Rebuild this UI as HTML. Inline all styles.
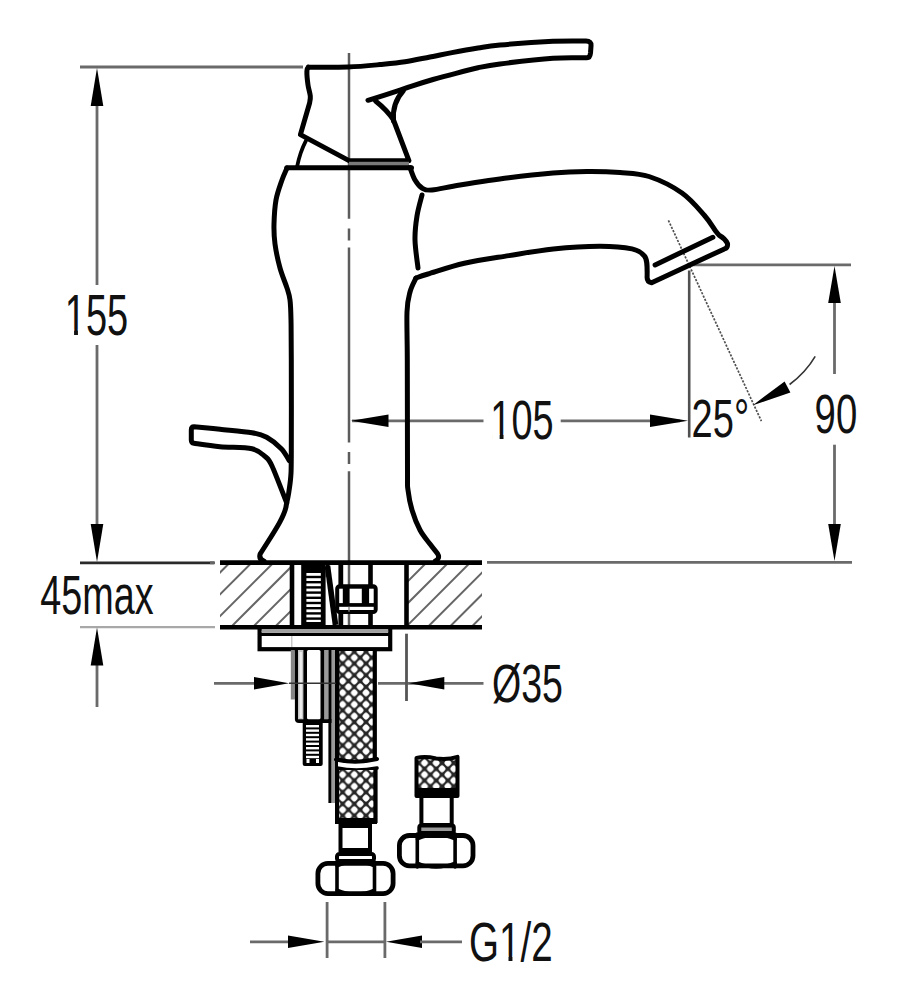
<!DOCTYPE html>
<html><head><meta charset="utf-8"><style>html,body{margin:0;padding:0;background:#fff;width:900px;height:1000px;overflow:hidden}svg{display:block}</style></head>
<body><svg width="900" height="1000" viewBox="0 0 900 1000">
<rect width="900" height="1000" fill="#fff"/>
<path d="M80,67 L303,67" fill="none" stroke="#6a6a6a" stroke-width="2.8" />
<path d="M97,100 L97,285" fill="none" stroke="#6a6a6a" stroke-width="2.8" />
<path d="M97,345 L97,530" fill="none" stroke="#6a6a6a" stroke-width="2.8" />
<path d="M97,68 L90.7,106 L103.3,106 Z" fill="#000"/>
<path d="M97,562 L103.3,524 L90.7,524 Z" fill="#000"/>
<path d="M80,562.8 L214,562.8" fill="none" stroke="#2a2a2a" stroke-width="2.8" />
<path d="M80,627.2 L215,627.2" fill="none" stroke="#a8a8a8" stroke-width="2.2" />
<path d="M210,562.8 L215,562.8" fill="none" stroke="#666" stroke-width="2.8" />
<path d="M97,660 L97,707" fill="none" stroke="#6a6a6a" stroke-width="2.8" />
<path d="M97,627.5 L90.7,665.5 L103.3,665.5 Z" fill="#000"/>
<path d="M487,562.4 L852,562.4" fill="none" stroke="#6a6a6a" stroke-width="2.8" />
<path d="M692,264.8 L851,264.8" fill="none" stroke="#6a6a6a" stroke-width="2.8" />
<path d="M834.5,290 L834.5,374" fill="none" stroke="#6a6a6a" stroke-width="2.8" />
<path d="M834.5,444.7 L834.5,530" fill="none" stroke="#6a6a6a" stroke-width="2.8" />
<path d="M834.5,266 L828.2,303 L840.8,303 Z" fill="#000"/>
<path d="M834.5,561 L840.8,524 L828.2,524 Z" fill="#000"/>
<path d="M689.2,270.5 L689.2,437.5" fill="none" stroke="#505050" stroke-width="2.6" />
<path d="M352,420.8 L483.5,420.8" fill="none" stroke="#6a6a6a" stroke-width="2.8" />
<path d="M560.7,420.8 L680,420.8" fill="none" stroke="#6a6a6a" stroke-width="2.8" />
<path d="M351,420.8 L388.5,427.1 L388.5,414.5 Z" fill="#000"/>
<path d="M688,420.8 L650,414.5 L650,427.1 Z" fill="#000"/>
<path d="M668.4,220.4 L761.4,421.1" fill="none" stroke="#505050" stroke-width="1.7" stroke-dasharray="2.2,1.4"/>
<path d="M815.2,356.3 Q806,372 789.6,384.5" fill="none" stroke="#333" stroke-width="1.6" />
<path d="M752.9,405.2 L790.4,392.6 L784.6,381.4 Z" fill="#000"/>
<path d="M214,683.3 L260,683.3" fill="none" stroke="#6a6a6a" stroke-width="2.8" />
<path d="M289,683.3 L254,677 L254,689.6 Z" fill="#000"/>
<path d="M378,683.3 L483.5,683.3" fill="none" stroke="#6a6a6a" stroke-width="2.8" />
<path d="M409,683.3 L444.3,689.6 L444.3,677 Z" fill="#000"/>
<path d="M406.5,633.7 L406.5,701" fill="none" stroke="#555" stroke-width="2.8" />
<path d="M250,941.8 L290,941.8" fill="none" stroke="#6a6a6a" stroke-width="2.8" />
<path d="M324.4,941.8 L288,935.5 L288,948.1 Z" fill="#000"/>
<path d="M327,941.8 L385,941.8" fill="none" stroke="#6a6a6a" stroke-width="2.8" />
<path d="M327.1,902 L327.1,958" fill="none" stroke="#6a6a6a" stroke-width="2.8" />
<path d="M384.9,902 L384.9,958" fill="none" stroke="#6a6a6a" stroke-width="2.8" />
<path d="M386,941.8 L422,948.1 L422,935.5 Z" fill="#000"/>
<path d="M420,941.8 L462,941.8" fill="none" stroke="#6a6a6a" stroke-width="2.8" />
<path d="M349,53 L349,625" fill="none" stroke="#5c5c5c" stroke-width="2.5" stroke-dasharray="165.8,9.6,12,7.2,194.8,9.6,12,7.2,400"/>
<g transform="matrix(0.3800,0,0,0.5814,64.76,334.52)"><text x="0" y="0" font-family="Liberation Sans" font-size="100" fill="#111" >155</text><rect x="5.0" y="-9.5" width="19.5" height="12" fill="#fff"/><rect x="34.7" y="-9.5" width="20" height="12" fill="#fff"/></g>
<g transform="matrix(0.3778,0,0,0.5465,40.34,613.85)"><text x="0" y="0" font-family="Liberation Sans" font-size="100" fill="#111" >45max</text></g>
<g transform="matrix(0.3787,0,0,0.5507,490.37,439.15)"><text x="0" y="0" font-family="Liberation Sans" font-size="100" fill="#111" >105</text><rect x="5.0" y="-9.5" width="19.5" height="12" fill="#fff"/><rect x="34.7" y="-9.5" width="20" height="12" fill="#fff"/></g>
<g transform="matrix(0.3807,0,0,0.5437,691.60,436.66)"><text x="0" y="0" font-family="Liberation Sans" font-size="100" fill="#111" >25°</text></g>
<g transform="matrix(0.3833,0,0,0.5592,814.58,432.74)"><text x="0" y="0" font-family="Liberation Sans" font-size="100" fill="#111" >90</text></g>
<g transform="matrix(0.3757,0,0,0.5293,492.00,701.51)"><text x="0" y="0" font-family="Liberation Sans" font-size="100" fill="#111" >Ø35</text></g>
<g transform="matrix(0.3855,0,0,0.5554,469.07,961.14)"><text x="0" y="0" font-family="Liberation Sans" font-size="100" fill="#111" >G1/2</text><rect x="82.8" y="-9.5" width="19.5" height="12" fill="#fff"/><rect x="112.5" y="-9.5" width="20" height="12" fill="#fff"/></g>
<path d="M308.4,67.2C315,67.2 336.1,67.4 348,67C359.9,66.6 370.5,65.5 380,64.6C389.5,63.7 396.7,63.1 405,61.8C413.3,60.5 422.2,58.5 430,57C437.8,55.5 444,54.1 452,52.6C460,51.1 470,49.3 478,48C486,46.7 487.5,46.1 500,45C512.5,43.9 538.7,42 553,41.3C567.3,40.6 580.5,41 586,41 Q591.5,41 591,46 L590.5,53 Q590,57.8 587,57.8C581.3,57.9 567.5,57.2 553,58.2C538.5,59.2 512.5,62.3 500,63.9C487.5,65.5 485.3,66.2 478,67.8C470.7,69.4 463.5,71.3 456,73.3C448.5,75.2 440.5,77.3 433,79.5C425.5,81.7 416.5,84.5 411,86.3C405.5,88.1 407.2,87.9 400,90.2C392.8,92.5 373.3,98.6 368,100.3" fill="none" stroke="#000" stroke-width="5.0" stroke-linejoin="round" stroke-linecap="round" />
<path d="M308.4,67.2C308.1,67.8 307,68 306.9,71C306.8,74 307.4,80.8 308,85C308.6,89.2 310,93 310.3,96C310.6,99 309.7,101.8 309.6,103 L300.4,134.6 L349,160.6 L409,160.8 L393.5,120 Q387,110 375.5,101" fill="none" stroke="#000" stroke-width="5.0" stroke-linejoin="round" stroke-linecap="round" />
<path d="M403.5,90.5 Q392,103 393.5,121" fill="none" stroke="#000" stroke-width="5.0" stroke-linejoin="round" stroke-linecap="round" />
<rect x="349" y="161.8" width="60" height="4.6" fill="#7a7a7a"/>
<path d="M286.8,167.8 L411.5,167.8" fill="none" stroke="#000" stroke-width="5.0" stroke-linejoin="round" stroke-linecap="round" />
<path d="M297,167 Q300,152 306,140.6" fill="none" stroke="#000" stroke-width="3.8" stroke-linejoin="round" stroke-linecap="round" />
<path d="M287,168C286.2,170 283.8,174.7 282,180C280.2,185.3 277.3,192.7 276,200C274.7,207.3 274.2,216.7 274,224C273.8,231.3 274,236.7 275,244C276,251.3 278,260.7 280,268C282,275.3 285.3,282.7 287,288C288.7,293.3 289.3,294.7 290,300C290.7,305.3 290.8,310 291,320C291.2,330 291.2,337.5 291.3,360C291.4,382.5 291.4,435.7 291.3,455C291.2,474.3 291.2,469.7 290.8,476C290.4,482.3 289.4,488.3 288.7,493C288,497.7 286.8,502.4 286.4,504.3 C285.5,516 272,535 260.2,553.9 Q258.5,559 264,561" fill="none" stroke="#000" stroke-width="5.0" stroke-linejoin="round" stroke-linecap="round" />
<path d="M410,167.5C410.8,169.6 413,176.6 415,180C417,183.4 419.2,186.3 422,188C424.8,189.7 425.7,190.5 432,190C438.3,189.5 447.2,187 460,185C472.8,183 493.4,179.8 508.9,177.8C524.4,175.8 540,174.1 553,173C566,171.9 575.8,171.6 587,171.5C598.2,171.4 609.7,171.7 620,172.5C630.3,173.3 638.7,173.1 649,176.5C659.3,179.9 672.8,186.5 682,193C691.2,199.5 698.9,209.2 704.5,215.5C710.1,221.8 713.1,227.7 715.6,231C718.1,234.3 718.9,234.8 719.5,235.5 Q725,238.5 727.5,243.5 Q728,248 724.4,248.9 L651.6,282.7 Q647,282 647.1,277.3 C647.4,264.9 647.1,259 644.4,256C641.7,253 639.4,250.5 632,248.9C624.6,247.3 613.1,246.2 600,246.2C586.9,246.2 568.5,247.3 553.3,248.9C538.1,250.5 523.7,253.2 508.9,255.6C494.1,258 477.9,260.2 464.4,263.3C450.9,266.4 436.1,271.6 428,274C419.9,276.4 418,277.3 416,278" fill="none" stroke="#000" stroke-width="5.0" stroke-linejoin="round" stroke-linecap="round" />
<path d="M416,278C415,280.3 411.5,286.3 410,292C408.5,297.7 407.4,300.7 407,312C406.6,323.3 407.2,333.7 407.3,360C407.4,386.3 407.4,448.3 407.5,470C407.6,491.7 407.2,483.3 408,490C408.8,496.7 410,503.3 412,510C414,516.7 417,524.3 420,530C423,535.7 427.1,540.1 430,544C432.9,547.9 436.2,551.9 437.5,553.5 Q440.5,558.5 435.4,561" fill="none" stroke="#000" stroke-width="5.0" stroke-linejoin="round" stroke-linecap="round" />
<path d="M655.1,264.9 L712.9,237.3" fill="none" stroke="#000" stroke-width="5.0" stroke-linejoin="round" stroke-linecap="round" />
<path d="M422,195C421.2,198.5 418.2,208.5 417,216C415.8,223.5 414.8,231.3 415,240C415.2,248.7 417.5,263.3 418,268" fill="none" stroke="#000" stroke-width="5.0" stroke-linejoin="round" stroke-linecap="round" />
<path d="M289.3,460.7C288,458.7 285.1,452.6 281.3,448.7C277.5,444.8 271.6,440 266.7,437.3C261.8,434.6 259.8,434 252,432.7C244.2,431.4 229.7,430.3 220,429.3C210.3,428.3 198.3,427.1 194,426.7 Q191.3,426.7 191.3,430 L191.3,440 Q191.3,443 194,443.3C198.3,443.9 210.3,445.8 220,446.7C229.7,447.6 244.4,447 252,448.7C259.6,450.4 262,453.8 265.3,456.7C268.6,459.6 268.4,458.3 272,466C275.6,473.7 284.2,496.8 286.7,503" fill="none" stroke="#000" stroke-width="5.0" stroke-linejoin="round" stroke-linecap="round" />
<clipPath id="hl"><rect x="220" y="564" width="71" height="61"/></clipPath>
<clipPath id="hr"><rect x="407" y="564" width="75" height="61"/></clipPath>
<path d="M108.8,640 L198.8,550 M130.6,640 L220.6,550 M152.5,640 L242.5,550 M174.4,640 L264.4,550 M196.2,640 L286.2,550 M218,640 L308,550 M239.9,640 L329.9,550 M261.8,640 L351.8,550 M283.6,640 L373.6,550 M305.5,640 L395.5,550 M327.3,640 L417.3,550 M349.1,640 L439.1,550 M371,640 L461,550 M392.8,640 L482.8,550 M414.7,640 L504.7,550 M436.5,640 L526.5,550 M458.4,640 L548.4,550 M480.2,640 L570.2,550 M502.1,640 L592.1,550 M524,640 L614,550" stroke="#666" stroke-width="2" clip-path="url(#hl)"/>
<path d="M108.8,640 L198.8,550 M130.6,640 L220.6,550 M152.5,640 L242.5,550 M174.4,640 L264.4,550 M196.2,640 L286.2,550 M218,640 L308,550 M239.9,640 L329.9,550 M261.8,640 L351.8,550 M283.6,640 L373.6,550 M305.5,640 L395.5,550 M327.3,640 L417.3,550 M349.1,640 L439.1,550 M371,640 L461,550 M392.8,640 L482.8,550 M414.7,640 L504.7,550 M436.5,640 L526.5,550 M458.4,640 L548.4,550 M480.2,640 L570.2,550 M502.1,640 L592.1,550 M524,640 L614,550" stroke="#666" stroke-width="2" clip-path="url(#hr)"/>
<path d="M220,562.6 L482,562.6" fill="none" stroke="#000" stroke-width="4.6" stroke-linejoin="round" stroke-linecap="butt"/>
<path d="M220,627.2 L482,627.2" fill="none" stroke="#000" stroke-width="4.4" stroke-linejoin="round" stroke-linecap="butt"/>
<path d="M292,562 L292,627" fill="none" stroke="#000" stroke-width="4.6" stroke-linejoin="round" stroke-linecap="butt"/>
<path d="M406.5,562 L406.5,627" fill="none" stroke="#000" stroke-width="4.6" stroke-linejoin="round" stroke-linecap="butt"/>
<rect x="301.2" y="563" width="5.2" height="63" fill="#000"/>
<rect x="320.8" y="563" width="4.8" height="63" fill="#000"/>
<rect x="306" y="575.8" width="15" height="2.4" fill="#000"/>
<rect x="306" y="581" width="15" height="2.4" fill="#000"/>
<rect x="306" y="586.2" width="15" height="2.4" fill="#000"/>
<rect x="306" y="591.4" width="15" height="2.4" fill="#000"/>
<rect x="306" y="596.6" width="15" height="2.4" fill="#000"/>
<rect x="306" y="601.8" width="15" height="2.4" fill="#000"/>
<rect x="306" y="607" width="15" height="2.4" fill="#000"/>
<rect x="306" y="612.2" width="15" height="2.4" fill="#000"/>
<rect x="306" y="617.4" width="15" height="2.4" fill="#000"/>
<rect x="306" y="622.6" width="15" height="2.4" fill="#000"/>
<rect x="306" y="627.8" width="15" height="2.4" fill="#000"/>
<rect x="306" y="563" width="15" height="10" fill="#000"/>
<rect x="306" y="622" width="15" height="4" fill="#000"/>
<path d="M327.5,566 L335.5,625" fill="none" stroke="#000" stroke-width="5.6" stroke-linejoin="round" stroke-linecap="butt"/>
<path d="M325.6,564 L330,564 L325.6,578 Z" fill="#000"/>
<rect x="338.4" y="563" width="4.8" height="63" fill="#000"/>
<rect x="368.2" y="563" width="4.6" height="63" fill="#000"/>
<rect x="337.2" y="586.2" width="38.5" height="25.9" fill="#fff" stroke="#000" stroke-width="4" rx="2.5"/>
<rect x="342.8" y="587" width="6.8" height="18" fill="#000"/>
<rect x="361.8" y="587" width="7.3" height="18" fill="#000"/>
<rect x="338" y="587" width="36.5" height="1.6" fill="#000"/>
<rect x="338" y="603.1" width="36.5" height="3.7" fill="#000"/>
<rect x="348.3" y="606.8" width="1.4" height="4.9" fill="#888"/>
<rect x="259.6" y="628.5" width="130.6" height="20.7" fill="none" stroke="#000" stroke-width="4.2"/>
<rect x="261.7" y="629" width="126.5" height="3.3" fill="#a0a0a0"/>
<path d="M260,634.3 L390,634.3" fill="none" stroke="#000" stroke-width="3.2" stroke-linejoin="round" stroke-linecap="butt"/>
<path d="M291.8,636 L291.8,647" fill="none" stroke="#bbb" stroke-width="1.2" />
<rect x="290.8" y="650" width="4.1" height="49.5" fill="#858585"/>
<path d="M294.9,650 L294.9,719 Q294.9,723 299,723 L339.5,723 L339.5,650 Z" fill="#000"/>
<rect x="298" y="650" width="5.4" height="69.3" fill="#c8c8c8"/>
<rect x="299.5" y="652" width="2.4" height="66" fill="#eee"/>
<rect x="307" y="650" width="13.5" height="69.3" rx="1.5" fill="#fff"/>
<rect x="324.1" y="650" width="4.5" height="69.3" fill="#9a9a9a"/>
<rect x="331.4" y="650" width="3.6" height="153" fill="#9a9a9a"/>
<rect x="328.4" y="719" width="3" height="84" fill="#000"/>
<rect x="335" y="719" width="3" height="84" fill="#000"/>
<path d="M289,683.3 L339,683.3" fill="none" stroke="#333" stroke-width="1.4" />
<rect x="302.7" y="721" width="20" height="45" fill="#000" rx="2"/>
<rect x="306" y="725" width="13" height="2.4" fill="#fff"/>
<rect x="306" y="729.4" width="13" height="2.4" fill="#fff"/>
<rect x="306" y="733.8" width="13" height="2.4" fill="#fff"/>
<rect x="306" y="738.2" width="13" height="2.4" fill="#fff"/>
<rect x="306" y="742.6" width="13" height="2.4" fill="#fff"/>
<rect x="306" y="747" width="13" height="2.4" fill="#fff"/>
<rect x="306" y="751.4" width="13" height="2.4" fill="#fff"/>
<rect x="306" y="755.8" width="13" height="2.4" fill="#fff"/>
<rect x="306.5" y="759" width="3" height="4" fill="#fff"/>
<rect x="316" y="759" width="3" height="4" fill="#fff"/>
<pattern id="xh" patternUnits="userSpaceOnUse" width="11.7" height="11.7" x="342.6" y="710.3"><rect width="11.7" height="11.7" fill="#262626"/><g fill="#fff"><rect x="2.85" y="-3.00" width="6.00" height="6.00" rx="2.00" transform="rotate(45 5.85 0.00)"/><rect x="2.85" y="8.70" width="6.00" height="6.00" rx="2.00" transform="rotate(45 5.85 11.70)"/><rect x="-3.00" y="2.85" width="6.00" height="6.00" rx="2.00" transform="rotate(45 0.00 5.85)"/><rect x="8.70" y="2.85" width="6.00" height="6.00" rx="2.00" transform="rotate(45 11.70 5.85)"/></g></pattern>
<rect x="338" y="651" width="36.5" height="109" fill="url(#xh)"/>
<path d="M337.6,650 L337.6,761" fill="none" stroke="#000" stroke-width="3.6" stroke-linejoin="round" stroke-linecap="butt"/>
<path d="M374.8,650 L374.8,761" fill="none" stroke="#000" stroke-width="4.2" stroke-linejoin="round" stroke-linecap="butt"/>
<path d="M336,759.5 Q356,764 377,759" fill="none" stroke="#000" stroke-width="4" stroke-linejoin="round" stroke-linecap="round" />
<path d="M337,768 Q356,772 377,768" fill="none" stroke="#000" stroke-width="3.6" stroke-linejoin="round" stroke-linecap="round" />
<rect x="337" y="770" width="38.5" height="50" fill="url(#xh)"/>
<path d="M337,768 L337,823" fill="none" stroke="#000" stroke-width="4" stroke-linejoin="round" stroke-linecap="butt"/>
<path d="M375.5,768 L375.5,823" fill="none" stroke="#000" stroke-width="4.2" stroke-linejoin="round" stroke-linecap="butt"/>
<rect x="335" y="818" width="42" height="6" fill="#000"/>
<rect x="340.5" y="826" width="29.5" height="24" fill="none" stroke="#000" stroke-width="4"/>
<rect x="337" y="854" width="37" height="7" fill="none" stroke="#000" stroke-width="4" rx="2.5"/>
<rect x="317.9" y="863.4" width="75.2" height="30.2" fill="none" stroke="#000" stroke-width="4.8" rx="10"/>
<path d="M337,862 L337,894" fill="none" stroke="#000" stroke-width="3.6" stroke-linejoin="round" stroke-linecap="round" />
<path d="M374.5,862 L374.5,894" fill="none" stroke="#000" stroke-width="3.6" stroke-linejoin="round" stroke-linecap="round" />
<path d="M337,866 Q356,858 374.5,866" fill="none" stroke="#000" stroke-width="3.2" stroke-linejoin="round" stroke-linecap="round" />
<path d="M337,890 Q356,898 374.5,890" fill="none" stroke="#000" stroke-width="3.2" stroke-linejoin="round" stroke-linecap="round" />
<rect x="417" y="759" width="39" height="33" fill="url(#xh)"/>
<path d="M416.5,758 Q425,756 436,758.5 Q448,760 457.5,756.8 L457.5,796 L416.5,796 Z" fill="none" stroke="#000" stroke-width="4" stroke-linejoin="round" stroke-linecap="round" />
<rect x="415" y="788" width="44" height="8" fill="#000"/>
<rect x="421.4" y="796" width="30.3" height="29" fill="none" stroke="#000" stroke-width="4"/>
<rect x="419.3" y="825.4" width="34.5" height="7.5" fill="#999" stroke="#000" stroke-width="4" rx="2"/>
<rect x="399.4" y="835.5" width="73.6" height="30.3" fill="none" stroke="#000" stroke-width="4.8" rx="10"/>
<path d="M417.3,834 L417.3,867" fill="none" stroke="#000" stroke-width="3.6" stroke-linejoin="round" stroke-linecap="round" />
<path d="M455.1,834 L455.1,867" fill="none" stroke="#000" stroke-width="3.6" stroke-linejoin="round" stroke-linecap="round" />
<path d="M417.3,839 Q436,830.5 455.1,839" fill="none" stroke="#000" stroke-width="3.4" stroke-linejoin="round" stroke-linecap="round" />
<path d="M417.3,863 Q436,871 455.1,863" fill="none" stroke="#000" stroke-width="3.4" stroke-linejoin="round" stroke-linecap="round" />
</svg></body></html>
